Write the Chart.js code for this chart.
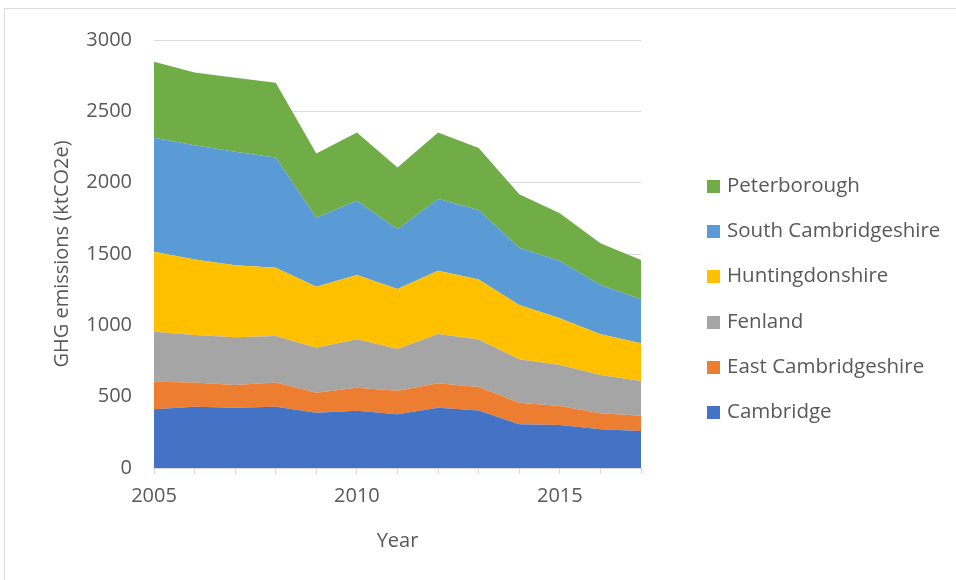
<!DOCTYPE html>
<html>
<head>
<meta charset="utf-8">
<script src="https://cdn.jsdelivr.net/npm/chart.js@4.4.1/dist/chart.umd.min.js"></script>
<style>
  html, body { margin: 0; padding: 0; background: #fff; }
  #wrap { position: relative; width: 956px; height: 580px; overflow: hidden; }
  #frame { position: absolute; left: 4px; top: 8px; width: 980px; height: 600px; border: 1px solid #d9d9d9; }
  canvas { position: absolute; left: 0; top: 0; }
  #legend { position: absolute; left: 707px; top: 169px; font-family: "Open Sans", sans-serif; font-size: 20.5px; color: #595959; }
  #legend div { height: 45.2px; line-height: 30px; white-space: nowrap; }
  #legend span { display: inline-block; width: 13px; height: 13px; margin-right: 7px; vertical-align: -1px; }
</style>
</head>
<body>
<div id="wrap">
  <div id="frame"></div>
  <canvas id="c" width="956" height="580"></canvas>
  <div id="legend"></div>
</div>
<script>
// years on the x axis
const years = ['2005','2006','2007','2008','2009','2010','2011','2012','2013','2014','2015','2016','2017'];

// emissions per district, ktCO2e
const cambridge    = [411, 430, 423, 430, 388, 402, 376, 423, 403, 306, 301, 271, 259];
const eastCambs    = [194, 170, 159, 170, 140, 161, 166, 171, 164, 152, 133, 112, 108];
const fenland      = [350, 332, 334, 325, 315, 339, 292, 345, 333, 304, 288, 269, 243];
const huntingdon   = [561, 530, 506, 479, 428, 450, 420, 444, 421, 380, 327, 285, 264];
const southCambs   = [799, 801, 794, 773, 483, 521, 419, 502, 487, 402, 402, 345, 308];
const peterborough = [532, 510, 519, 523, 451, 479, 434, 467, 435, 374, 334, 293, 276];

const series = [
  { label: 'Cambridge',            data: cambridge,    color: '#4472C4' },
  { label: 'East Cambridgeshire',  data: eastCambs,    color: '#ED7D31' },
  { label: 'Fenland',              data: fenland,      color: '#A5A5A5' },
  { label: 'Huntingdonshire',      data: huntingdon,   color: '#FFC000' },
  { label: 'South Cambridgeshire', data: southCambs,   color: '#5B9BD5' },
  { label: 'Peterborough',         data: peterborough, color: '#70AD47' }
];

const FONT = '"Open Sans", sans-serif';
const TXT = '#595959';

const datasets = series.map((s, i) => ({
  label: s.label,
  data: s.data,
  backgroundColor: s.color,
  borderWidth: 0,
  pointRadius: 0,
  tension: 0,
  fill: i === 0 ? 'origin' : '-1'
}));

new Chart(document.getElementById('c'), {
  type: 'line',
  data: { labels: years, datasets },
  options: {
    responsive: false,
    animation: false,
    layout: { padding: { left: 50, right: 315, top: 40, bottom: 27 } },
    plugins: { legend: { display: false }, tooltip: { enabled: false } },
    scales: {
      x: {
        offset: false,
        grid: { drawOnChartArea: false, color: '#d9d9d9', tickLength: 6 },
        border: { color: '#d9d9d9' },
        ticks: {
          autoSkip: false, maxRotation: 0, padding: 10,
          color: TXT, font: { family: FONT, size: 20 },
          callback: function (v) { const y = this.getLabelForValue(v); return y % 5 === 0 ? y : ''; }
        },
        title: { display: true, text: 'Year', color: TXT, font: { family: FONT, size: 20 }, padding: 0 },
        afterFit: s => { s.height = 85; }
      },
      y: {
        stacked: true,
        min: 0, max: 3000,
        grid: { color: '#d9d9d9', drawTicks: false },
        border: { display: false },
        ticks: { stepSize: 500, padding: 22, color: TXT, font: { family: FONT, size: 20 }, callback: v => String(v) },
        title: { display: true, text: 'GHG emissions (ktCO2e)', color: TXT, font: { family: FONT, size: 20 }, padding: 0 },
        afterFit: s => { s.width = 104; }
      }
    }
  }
});

// legend, top to bottom in reverse stacking order
document.getElementById('legend').innerHTML = series.slice().reverse()
  .map(s => `<div><span style="background:${s.color}"></span>${s.label}</div>`).join('');
</script>
</body>
</html>
